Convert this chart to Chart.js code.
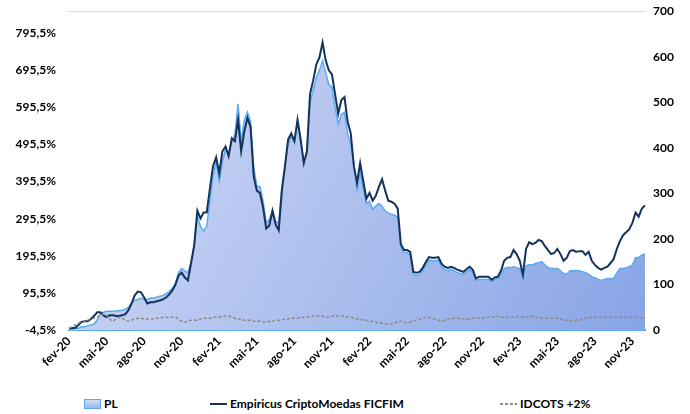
<!DOCTYPE html>
<html lang="pt-BR">
<head>
<meta charset="utf-8">
<script src="https://cdn.jsdelivr.net/npm/chart.js@4.4.1/dist/chart.umd.min.js"></script>
<style>
    html, body { margin: 0; padding: 0; background: #fff; }
    #wrap { position: relative; width: 690px; height: 414px; overflow: hidden; font-family: Lato, "Open Sans", sans-serif; font-weight: bold; font-size: 12px; color: #000; }
    #wrap canvas { position: absolute; left: 0; top: -9px; }
    .leg { position: absolute; top: 397px; height: 14px; line-height: 14px; white-space: nowrap; }
    .leg i { display: inline-block; vertical-align: middle; margin-right: 3px; margin-top: -2px; }
    .leg .box { width: 15px; height: 8px; border: 1px solid #5aaaf0; background: linear-gradient(#cfdaf5, #9fb7ea); }
    .leg .line { width: 17px; height: 2px; background: #14335c; }
    .leg .dash { width: 17px; height: 2px; background: repeating-linear-gradient(90deg, #8c8a88 0 3px, transparent 3px 5px); }
</style>
</head>
<body>
<div id="wrap">
    <canvas id="myChart" width="690" height="401"></canvas>
    <div class="leg" style="left:84px"><i class="box"></i>PL</div>
    <div class="leg" style="left:210px"><i class="line"></i>Empiricus CriptoMoedas FICFIM</div>
    <div class="leg" style="left:500px"><i class="dash"></i>IDCOTS +2%</div>
</div>
<script>
//  meses (4 pontos semanais por mes, ultimo ponto em dez-23)
const meses = ["fev-20","mar-20","abr-20","mai-20","jun-20","jul-20","ago-20","set-20","out-20","nov-20","dez-20",
               "jan-21","fev-21","mar-21","abr-21","mai-21","jun-21","jul-21","ago-21","set-21","out-21","nov-21","dez-21",
               "jan-22","fev-22","mar-22","abr-22","mai-22","jun-22","jul-22","ago-22","set-22","out-22","nov-22","dez-22",
               "jan-23","fev-23","mar-23","abr-23","mai-23","jun-23","jul-23","ago-23","set-23","out-23","nov-23"];
const ultimoMes = "dez-23";

//  Empiricus CriptoMoedas FICFIM (% acumulado, eixo esquerdo)
const fundo = [
    1, 1, 1, 9,          17, 19, 19, 25,       33, 43, 43, 35,       30, 35, 35, 33,
    33, 35, 38, 49,      67, 89, 99, 97,       83, 67, 70, 70,       73, 75, 78, 83,
    91, 102, 118, 142,   150, 137, 129, 176,   224, 317, 296, 312,
    312, 376, 437, 461,  418, 477, 490, 464,   512, 504, 562, 477,   530, 567, 543, 410,
    371, 365, 325, 269,  277, 317, 280, 264,   371, 437, 509, 525,   504, 562, 509, 445,
    477, 631, 668, 711,  730, 770, 722, 695,   684, 631, 578, 615,   623, 557, 525, 437,
    392, 445, 397, 349,  365, 344, 357, 381,   402, 371, 344, 341,   336, 323, 227, 211,
    211, 206, 152, 150,  152, 163, 179, 192,   190, 190, 192, 174,   166, 163, 166, 163,
    158, 155, 152, 160,  166, 158, 134, 139,   139, 139, 139, 131,   137, 139, 155, 182,
    190, 192, 211, 200,  182, 144, 214, 232,   227, 230, 238, 235,   222, 211, 200, 203,
    214, 200, 182, 190,  208, 211, 206, 208,   208, 198, 206, 182,   171, 163, 158, 163,
    166, 176, 187, 214,  235, 251, 259, 267,   285, 312, 301, 323,
    331
];

//  PL (R$ milhoes, eixo direito)
const pl = [
    0, 2, 4, 4,          7, 7, 9, 11,          13, 22, 37, 39,       41, 41, 41, 41,
    43, 43, 46, 50,      59, 65, 67, 70,       67, 67, 70, 70,       72, 74, 76, 80,
    85, 91, 102, 126,    135, 130, 126, 148,   185, 250, 228, 217,
    228, 283, 337, 370,  326, 370, 396, 387,   413, 430, 496, 413,   461, 478, 457, 359,
    315, 315, 283, 235,  243, 261, 239, 235,   315, 359, 409, 424,   413, 457, 413, 370,
    387, 500, 526, 554,  570, 591, 565, 539,   533, 489, 452, 474,   478, 430, 409, 365,
    309, 348, 309, 278,  283, 265, 272, 278,   272, 261, 257, 254,   252, 248, 183, 170,
    170, 165, 122, 120,  122, 130, 143, 154,   152, 152, 154, 139,   133, 130, 133, 130,
    126, 124, 122, 128,  133, 126, 109, 111,   111, 111, 111, 107,   111, 113, 122, 135,
    137, 137, 139, 137,  135, 117, 141, 143,   143, 146, 148, 150,   143, 137, 135, 135,
    135, 130, 124, 122,  130, 130, 130, 130,   128, 126, 122, 117,   115, 111, 109, 111,
    113, 113, 113, 126,  135, 135, 137, 139,   143, 159, 159, 165,
    167
];

//  IDCOTS +2% (% acumulado, eixo esquerdo)
const idcots = [
    1, 4, 9, 14,         17, 19, 22, 25,       27, 30, 35, 38,       35, 25, 19, 25,
    30, 27, 22, 19,      22, 25, 27, 27,       25, 25, 25, 25,       27, 27, 30, 30,
    30, 30, 30, 25,      19, 17, 19, 22,       22, 22, 25, 27,
    27, 27, 30, 30,      30, 33, 33, 33,       30, 27, 25, 25,       22, 22, 22, 19,
    19, 19, 17, 17,      19, 19, 22, 22,       22, 25, 25, 27,       27, 27, 30, 30,
    30, 33, 33, 33,      33, 33, 30, 30,       33, 33, 33, 33,       33, 30, 30, 27,
    25, 25, 22, 22,      19, 19, 17, 14,       14, 12, 12, 12,       14, 19, 19, 17,
    14, 17, 19, 22,      25, 27, 30, 30,       27, 25, 22, 19,       22, 25, 25, 27,
    27, 27, 25, 25,      25, 27, 27, 27,       27, 30, 30, 30,       30, 33, 30, 30,
    30, 30, 30, 33,      30, 30, 30, 30,       33, 30, 30, 27,       27, 27, 27, 27,
    27, 25, 22, 22,      19, 22, 22, 22,       25, 27, 27, 30,       30, 30, 30, 30,
    30, 30, 30, 30,      30, 30, 30, 30,       30, 30, 30, 27,
    27
];

//  ticks do eixo esquerdo (passo de 100 a partir de -4,5%)
const ticksEsq = [-4.5, 95.5, 195.5, 295.5, 395.5, 495.5, 595.5, 695.5, 795.5];

//  rotulos do eixo x: cada mes repetido para os 4 pontos semanais
let rotulos = [];
meses.forEach(m => { rotulos.push(m, m, m, m); });
rotulos.push(ultimoMes);

const fonte = { family: 'Lato', size: 12, weight: 'bold' };

//  gradiente da area do PL
function gradientePL(context){
    const chart = context.chart;
    const area = chart.chartArea;
    if(!area){
        return 'rgba(180,200,240,1)';
    }
    const g = chart.ctx.createLinearGradient(area.left, area.top, area.right, area.bottom);
    g.addColorStop(0, '#d6def6');
    g.addColorStop(1, '#88a4e6');
    return g;
}

//  setup
const data = {
    labels: rotulos,
    datasets: [
        {
            label: 'IDCOTS +2%',
            data: idcots,
            yAxisID: 'y',
            borderColor: '#8c8a88',
            borderWidth: 1.5,
            borderDash: [3, 2],
            pointRadius: 0,
            tension: 0,
            fill: false,
            order: 1
        },
        {
            label: 'Empiricus CriptoMoedas FICFIM',
            data: fundo,
            yAxisID: 'y',
            borderColor: '#14335c',
            borderWidth: 2,
            pointRadius: 0,
            tension: 0,
            fill: false,
            order: 2
        },
        {
            label: 'PL',
            data: pl,
            yAxisID: 'y2',
            borderColor: '#5aaaf0',
            borderWidth: 1.5,
            backgroundColor: gradientePL,
            pointRadius: 0,
            tension: 0,
            fill: 'origin',
            order: 3
        }
    ]
};

//  config
const config = {
    type: 'line',
    data: data,
    options: {
        responsive: false,
        animation: false,
        layout: { padding: { top: 0 } },
        plugins: {
            legend: { display: false },
            tooltip: { enabled: false }
        },
        scales: {
            x: {
                grid: { display: false, drawTicks: false },
                border: { display: true, color: '#5aaaf0', width: 2 },
                ticks: { autoSkip: false, maxRotation: 45, minRotation: 45, padding: 4, color: '#000', font: fonte },
                afterBuildTicks: s => { s.ticks = s.ticks.filter(t => t.value % 12 === 0); },
                afterFit: s => { s.height = 62; }
            },
            y: {
                position: 'left',
                min: -4.5,
                max: 854.5,
                grid: { display: false, drawTicks: false },
                border: { display: false },
                ticks: {
                    padding: 13, color: '#000', font: fonte,
                    callback: v => v.toFixed(1).replace('.', ',') + '%'
                },
                afterBuildTicks: s => { s.ticks = ticksEsq.map(v => ({ value: v })); },
                afterFit: s => { s.width = 69; }
            },
            y2: {
                position: 'right',
                min: 0,
                max: 700,
                grid: {
                    drawTicks: false,
                    color: c => (c.tick && c.tick.value === 700) ? '#d9d9d9' : 'rgba(0,0,0,0)'
                },
                border: { display: false },
                ticks: { stepSize: 100, padding: 8, color: '#000', font: fonte },
                afterFit: s => { s.width = 45; }
            }
        }
    }
};

//  render
let myChart = new Chart(document.getElementById('myChart'), config);
</script>
</body>
</html>
